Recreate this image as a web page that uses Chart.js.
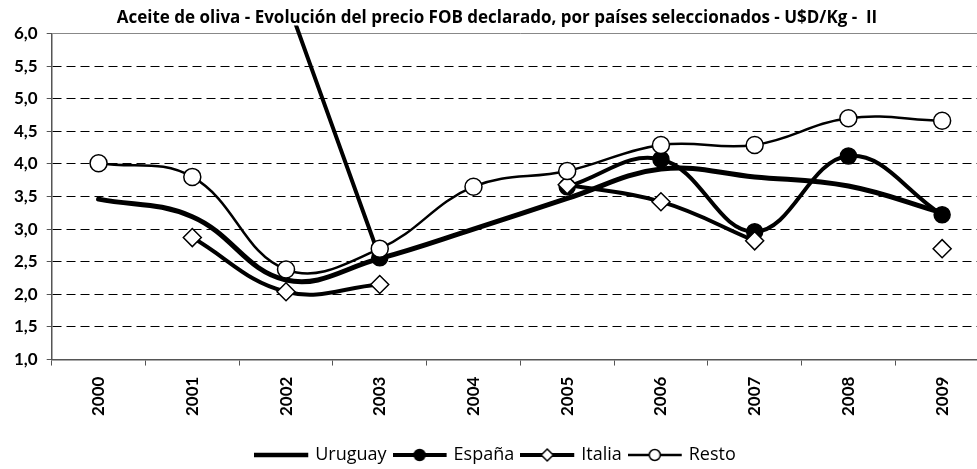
<!DOCTYPE html>
<html>
<head>
<meta charset="utf-8">
<script src="https://cdn.jsdelivr.net/npm/chart.js@4.4.1/dist/chart.umd.min.js"></script>
<style>
  html, body { margin: 0; padding: 0; background: #fff; overflow: hidden; }
  #wrap { width: 977px; height: 469px; overflow: hidden; }
</style>
</head>
<body>
<div id="wrap"><canvas id="chart" width="1000" height="476"></canvas></div>
<script>
// values (U$D/Kg)
const years = ['2000', '2001', '2002', '2003', '2004', '2005', '2006', '2007', '2008', '2009'];
const uruguay = [3.46, 3.19, 2.22, 2.55, 3.00, 3.47, 3.92, 3.80, 3.66, 3.25];
const espana = [null, null, 6.55, 2.56, null, 3.65, 4.07, 2.96, 4.12, 3.22];
const italia = [null, 2.87, 2.04, 2.15, null, 3.68, 3.42, 2.82, null, 2.70];
const resto = [4.01, 3.80, 2.38, 2.70, 3.65, 3.89, 4.29, 4.29, 4.70, 4.66];
const seriesNames = ['Uruguay', 'España', 'Italia', 'Resto'];
const yMin = 1, yMax = 6, yStep = 0.5;

const titleText = 'Aceite de oliva - Evolución del precio FOB declarado, por países seleccionados - U$D/Kg -  II';
const FONT = 'Lato, "Open Sans", sans-serif';
const FONT2 = '"Open Sans", Lato, sans-serif';

// legend sample: short line with the series marker in the middle
function legendImage(ds) {
  const c = document.createElement('canvas');
  c.width = 56; c.height = 20;
  const g = c.getContext('2d');
  g.strokeStyle = '#000';
  g.lineWidth = ds.legendLine;
  g.beginPath(); g.moveTo(0, 10); g.lineTo(54, 10); g.stroke();
  if (ds.legendMarker) {
    g.lineWidth = 1.5;
    g.fillStyle = ds.pointBackgroundColor;
    g.beginPath();
    if (ds.pointStyle === 'rectRot') {
      g.moveTo(27 - 6, 10); g.lineTo(27, 4); g.lineTo(27 + 6, 10); g.lineTo(27, 16); g.closePath();
    } else {
      g.arc(27, 10, 5.5, 0, Math.PI * 2);
    }
    g.fill(); g.stroke();
  }
  return c;
}

const datasets = [
  { label: seriesNames[0], data: uruguay, borderColor: '#000', borderWidth: 5, legendLine: 4.5,
    pointRadius: 0, order: 4, legendMarker: false },
  { label: seriesNames[1], data: espana, borderColor: '#000', borderWidth: 4, legendLine: 4,
    pointStyle: 'circle', pointBackgroundColor: '#000', pointBorderColor: '#000', pointBorderWidth: 1.5,
    pointRadius: ctx => (ctx.raw != null && ctx.raw > yMax ? 0 : 8),
    order: 3, legendMarker: true, clip: { left: 10, right: 10, top: 8, bottom: 10 } },
  { label: seriesNames[2], data: italia, borderColor: '#000', borderWidth: 4, legendLine: 4,
    pointStyle: 'rectRot', pointBackgroundColor: '#fff', pointBorderColor: '#000', pointBorderWidth: 1.5,
    pointRadius: 9, order: 2, legendMarker: true },
  { label: seriesNames[3], data: resto, borderColor: '#000', borderWidth: 2.5, legendLine: 2.5,
    pointStyle: 'circle', pointBackgroundColor: '#fff', pointBorderColor: '#000', pointBorderWidth: 1.5,
    pointRadius: 8.5, order: 1, legendMarker: true }
];
datasets.forEach(ds => {
  ds.tension = 0.4;
  ds.fill = false;
  ds.borderJoinStyle = 'round';
  ds.borderCapStyle = 'round';
  ds.spanGaps = false;
  ds.pointHoverRadius = ds.pointRadius;
});

new Chart(document.getElementById('chart'), {
  type: 'line',
  data: { labels: years, datasets: datasets },
  options: {
    responsive: false,
    animation: false,
    layout: { padding: { left: 5, right: 11, top: 0, bottom: 2 } },
    plugins: {
      tooltip: { enabled: false },
      title: {
        display: true, text: titleText, color: '#000',
        font: { family: FONT2, size: 17, weight: 'bold' },
        padding: { top: 8, bottom: 5 }
      },
      legend: {
        position: 'bottom',
        labels: {
          usePointStyle: true,
          pointStyleWidth: 48,
          color: '#000',
          padding: 10,
          font: { family: FONT2, size: 18 },
          generateLabels: chart => chart.data.datasets.map((ds, i) => ({
            text: ds.label,
            pointStyle: legendImage(ds),
            fillStyle: 'transparent',
            strokeStyle: 'transparent',
            lineWidth: 0,
            hidden: false,
            datasetIndex: i,
            fontColor: '#000'
          }))
        }
      }
    },
    scales: {
      x: {
        offset: true,
        afterFit: s => { s.height += 9; },
        grid: { offset: true, drawOnChartArea: false, drawTicks: true, tickLength: 6, tickColor: '#555' },
        border: { display: true, color: '#555', width: 1.5 },
        ticks: {
          autoSkip: false, minRotation: 90, maxRotation: 90, padding: 11, color: '#000',
          font: { family: FONT, size: 17, weight: 'bold' }
        }
      },
      y: {
        min: yMin, max: yMax,
        grid: {
          color: ctx => (ctx.tick && ctx.tick.value === yMax ? '#888' : '#000'),
          lineWidth: 1,
          drawTicks: true, tickLength: 5, tickColor: '#555', tickBorderDash: []
        },
        border: {
          display: true, color: '#555', width: 1.5,
          dash: ctx => (ctx.tick && ctx.tick.value === yMax ? [] : [9, 5])
        },
        ticks: {
          stepSize: yStep, padding: 9, color: '#000',
          font: { family: FONT, size: 17, weight: 'bold' },
          callback: v => v.toFixed(1).replace('.', ',')
        }
      }
    }
  }
});
</script>
</body>
</html>
